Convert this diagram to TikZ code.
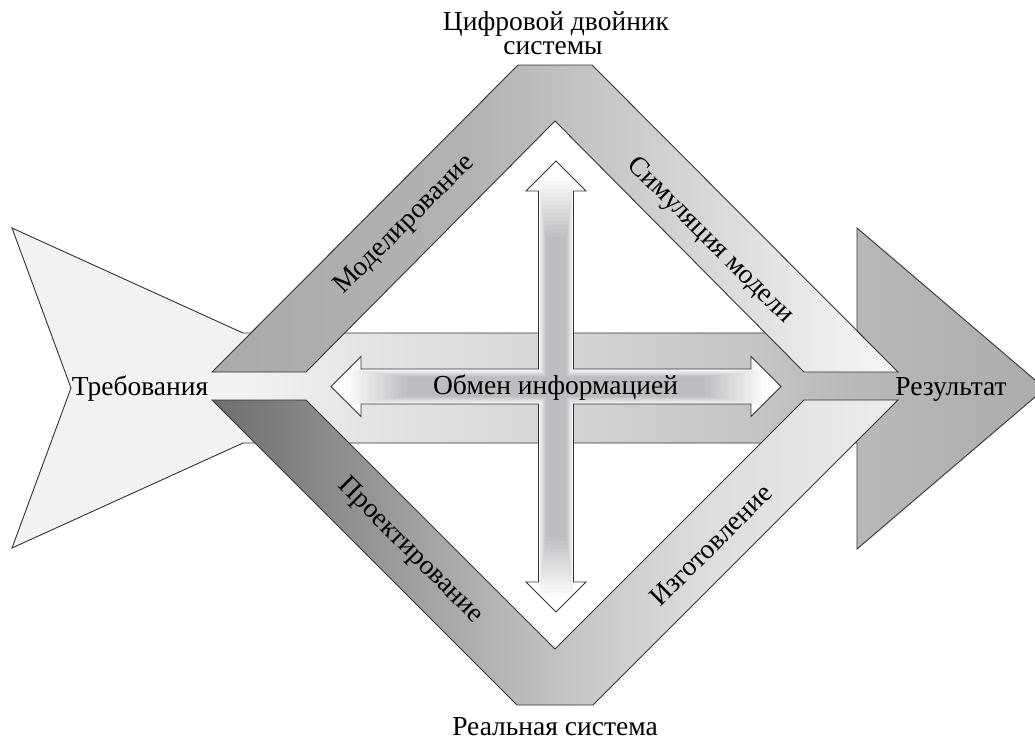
\documentclass[tikz,border=0pt]{standalone}
\usepackage{fontspec}
\setmainfont{Liberation Serif}
\definecolor{ol}{HTML}{333333}
\definecolor{bgA}{HTML}{F2F2F2}
\definecolor{bgB}{HTML}{E6E6E6}
\definecolor{bgC}{HTML}{C4C4C4}
\definecolor{bgD}{HTML}{B8B8B8}
\definecolor{bgE}{HTML}{ACACAC}
\definecolor{upA}{HTML}{AAAAAA}
\definecolor{upB}{HTML}{B2B2B2}
\definecolor{upC}{HTML}{C6C6C6}
\definecolor{upD}{HTML}{F8F8F8}
\definecolor{loA}{HTML}{6E6E6E}
\definecolor{loB}{HTML}{C2C2C2}
\definecolor{loC}{HTML}{DCDCDC}
\definecolor{loD}{HTML}{ECECEC}
\definecolor{glowc}{HTML}{BCBDC1}
\pgfdeclarehorizontalshading{bgshade}{100bp}{color(0bp)=(bgA); color(25bp)=(bgA); color(36.1bp)=(bgA); color(41.4bp)=(bgB); color(61.2bp)=(bgC); color(65.9bp)=(bgD); color(75bp)=(bgE); color(100bp)=(bgE)}
\pgfdeclarehorizontalshading{upshade}{100bp}{color(0bp)=(upA); color(25bp)=(upA); color(43.8bp)=(upB); color(53.3bp)=(upC); color(75bp)=(upD); color(100bp)=(upD)}
\pgfdeclarehorizontalshading{loshade}{100bp}{color(0bp)=(loA); color(25bp)=(loA); color(50bp)=(loB); color(60.6bp)=(loC); color(75bp)=(loD); color(100bp)=(loD)}
\newcommand\crossshape{(331,386.5) -- (361,356.5) -- (361,369) -- (538.5,369) -- (538.5,191) -- (526,191) -- (556,161) -- (586,191) -- (573.5,191) -- (573.5,369) -- (751,369) -- (751,356.5) -- (781,386.5) -- (751,416.5) -- (751,404) -- (573.5,404) -- (573.5,582) -- (586,582) -- (556,612) -- (526,582) -- (538.5,582) -- (538.5,404) -- (361,404) -- (361,416.5) -- cycle}
\begin{document}
\begin{tikzpicture}[x=1pt,y=-1pt,
  outl/.style={draw=ol, line width=0.9pt, line join=miter},
  lbl/.style={font=\fontsize{27.5}{27.5}\selectfont, inner sep=0pt, text=black}]
\clip (0,0) rectangle (1035,740);
\fill[white] (0,0) rectangle (1035,740);
% tail, band and head
\shadedraw[outl, shading=bgshade] (12,228) -- (243,333) -- (857,333) -- (857,228) -- (1045,388.5) -- (857,549) -- (857,443) -- (243,443) -- (12,548) -- (71,388) -- cycle;
% upper ring
\shadedraw[outl, shading=upshade] (212,372) -- (518,65) -- (592,65) -- (898,372) -- (804,372) -- (555,121) -- (306,372) -- cycle;
% lower ring
\shadedraw[outl, shading=loshade] (212,400) -- (306,400) -- (555,649) -- (804,400) -- (898,400) -- (593,705) -- (517,705) -- cycle;
% cross of double arrows
\fill[white] \crossshape;
\begin{scope}
\clip \crossshape;
\foreach \i in {1,...,16} {
  \pgfmathsetmacro\p{100*\i/16}
  \pgfmathsetmacro\hx{214-64*\i/16}
  \pgfmathsetmacro\hy{18-8*\i/16}
  \fill[glowc!\p!white] (556-\hx,386.5-\hy) rectangle (556+\hx,386.5+\hy);
  \fill[glowc!\p!white] (556-\hy,386.5-\hx) rectangle (556+\hy,386.5+\hx);
}
\end{scope}
\draw[outl] \crossshape;
% labels
\node[lbl, anchor=base] (req) at (140,395) {Требования};
\node[lbl, anchor=base] (res) at (951,395) {Результат};
\node[lbl, anchor=base] (info) at (555.5,394) {Обмен информацией};
\node[lbl, anchor=base] (twin1) at (556,30) {Цифровой двойник};
\node[lbl, anchor=base] (twin2) at (553,54) {системы};
\node[lbl, anchor=base] (real) at (555,735) {Реальная система};
\node[lbl, rotate=45] (model) at (405,225) {Моделирование};
\node[lbl, rotate=-45] (sim) at (710,241) {Симуляция модели};
\node[lbl, rotate=-45] (design) at (410,551) {Проектирование};
\node[lbl, rotate=45] (make) at (711,545) {Изготовление};
\end{tikzpicture}
\end{document}
